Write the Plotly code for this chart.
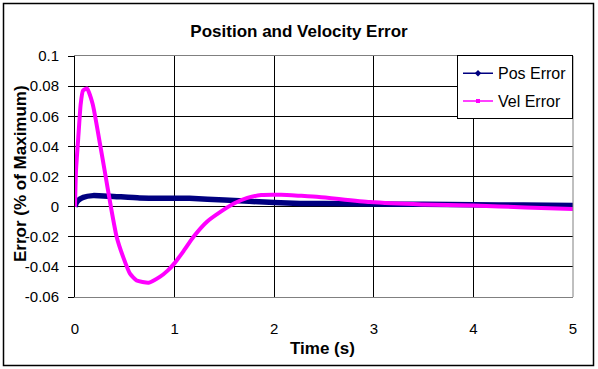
import plotly.graph_objects as go

# ---- data ----
time_pos = [0, 0.017, 0.05, 0.083, 0.18, 0.35, 0.65, 1.0, 1.15, 1.5, 2.0, 2.26, 2.5, 3.0, 3.5, 4.0, 4.5, 5.0]
pos_error = [0, 0.0029, 0.005, 0.0062, 0.0073, 0.0069, 0.0058, 0.0056, 0.0055, 0.0044, 0.0027, 0.0021,
             0.002, 0.0017, 0.0015, 0.0013, 0.001, 0.0007]

time_vel = [0, 0.01, 0.033, 0.057, 0.08, 0.12, 0.178, 0.25, 0.30, 0.36, 0.418, 0.485, 0.552, 0.619,
            0.74, 0.855, 0.93, 1.0, 1.09, 1.19, 1.325, 1.46, 1.6, 1.73, 1.87, 2.07, 2.26, 2.45, 2.96,
            3.48, 4.0, 4.52, 5.0]
vel_error = [0, 0.024, 0.046, 0.068, 0.077, 0.0785, 0.068, 0.042, 0.023, 0.0, -0.020, -0.0337,
             -0.0445, -0.049, -0.0505, -0.0465, -0.0425, -0.0375, -0.0295, -0.020, -0.010, -0.0035,
             0.0022, 0.0058, 0.0077, 0.0079, 0.0072, 0.0064, 0.003, 0.0014, 0.0007, -0.0005, -0.0016]

x_tickvals = [0, 1, 2, 3, 4, 5]
x_ticktext = ["0", "1", "2", "3", "4", "5"]
y_tickvals = [0.1, 0.08, 0.06, 0.04, 0.02, 0, -0.02, -0.04, -0.06]
y_ticktext = ["0.1", "0.08", "0.06", "0.04", "0.02", "0", "-0.02", "-0.04", "-0.06"]

FONT = "Arial, Liberation Sans, sans-serif"
NAVY = "#000080"
MAGENTA = "#FF00FF"

fig = go.Figure()

fig.add_trace(go.Scatter(x=time_pos, y=pos_error, mode="lines",
                         line=dict(color=NAVY, width=5.5, shape="spline", smoothing=0.5),
                         showlegend=False, hoverinfo="skip"))
fig.add_trace(go.Scatter(x=time_vel, y=vel_error, mode="lines",
                         line=dict(color=MAGENTA, width=4, shape="spline", smoothing=0.5),
                         showlegend=False, hoverinfo="skip"))

# legend entries (line with small marker, like the original)
fig.add_trace(go.Scatter(x=[None], y=[None], mode="lines+markers", name="Pos Error",
                         line=dict(color=NAVY, width=1.5),
                         marker=dict(symbol="diamond", size=5, color=NAVY),
                         legendgroup="a"))
fig.add_trace(go.Scatter(x=[None], y=[None], mode="lines+markers", name="Vel Error",
                         line=dict(color=MAGENTA, width=1.5),
                         marker=dict(symbol="square", size=4, color=MAGENTA),
                         legendgroup="b"))

fig.update_layout(
    width=598, height=369,
    margin=dict(l=75, r=25, t=56, b=72),
    paper_bgcolor="white", plot_bgcolor="white",
    font=dict(family=FONT, size=15, color="black"),
    title=dict(text="<b>Position and Velocity Error</b>", x=0.5, xref="container",
               y=1 - 31 / 369, yanchor="middle", xanchor="center",
               font=dict(family=FONT, size=17, color="black")),
    showlegend=True,
    legend=dict(x=1, y=1.003, xanchor="right", yanchor="top",
                bgcolor="white", bordercolor="black", borderwidth=1,
                font=dict(family=FONT, size=16, color="black"),
                traceorder="grouped", tracegroupgap=4, itemwidth=30),
    xaxis=dict(range=[0, 5], tickvals=x_tickvals, ticktext=x_ticktext,
               showgrid=True, gridcolor="black", gridwidth=1,
               zeroline=False, showline=True, linecolor="#808080", linewidth=1, mirror=True,
               ticks="", ticklabelstandoff=18,
               tickfont=dict(family=FONT, size=15, color="black")),
    yaxis=dict(range=[-0.06, 0.1], tickvals=y_tickvals, ticktext=y_ticktext,
               showgrid=True, gridcolor="black", gridwidth=1,
               zeroline=False, showline=True, linecolor="black", linewidth=1,
               ticks="outside", ticklen=6, tickcolor="black", ticklabelstandoff=6,
               tickfont=dict(family=FONT, size=15, color="black")),
    shapes=[
        # right edge of the plot frame (gray)
        dict(type="line", xref="paper", yref="paper", x0=1, x1=1, y0=0, y1=1,
             line=dict(color="#808080", width=1)),
        # outer chart border
        dict(type="rect", xref="paper", yref="paper",
             x0=(3.5 - 75) / 498, x1=(593.5 - 75) / 498,
             y0=(297 - 365.5) / 241, y1=(297 - 3.5) / 241,
             line=dict(color="black", width=1.5), fillcolor="rgba(0,0,0,0)", layer="below"),
    ],
    annotations=[
        dict(text="<b>Error (% of Maximum)</b>", xref="paper", yref="paper",
             x=(20 - 75) / 498, y=(297 - 174) / 241, textangle=-90, showarrow=False,
             xanchor="center", yanchor="middle",
             font=dict(family=FONT, size=17, color="black")),
        dict(text="<b>Time (s)</b>", xref="paper", yref="paper",
             x=(322 - 75) / 498, y=(297 - 348) / 241, showarrow=False,
             xanchor="center", yanchor="middle",
             font=dict(family=FONT, size=17, color="black")),
    ],
)

fig.write_html("out.html", config={"displayModeBar": False},
               post_script="document.body.style.margin='0px';")
